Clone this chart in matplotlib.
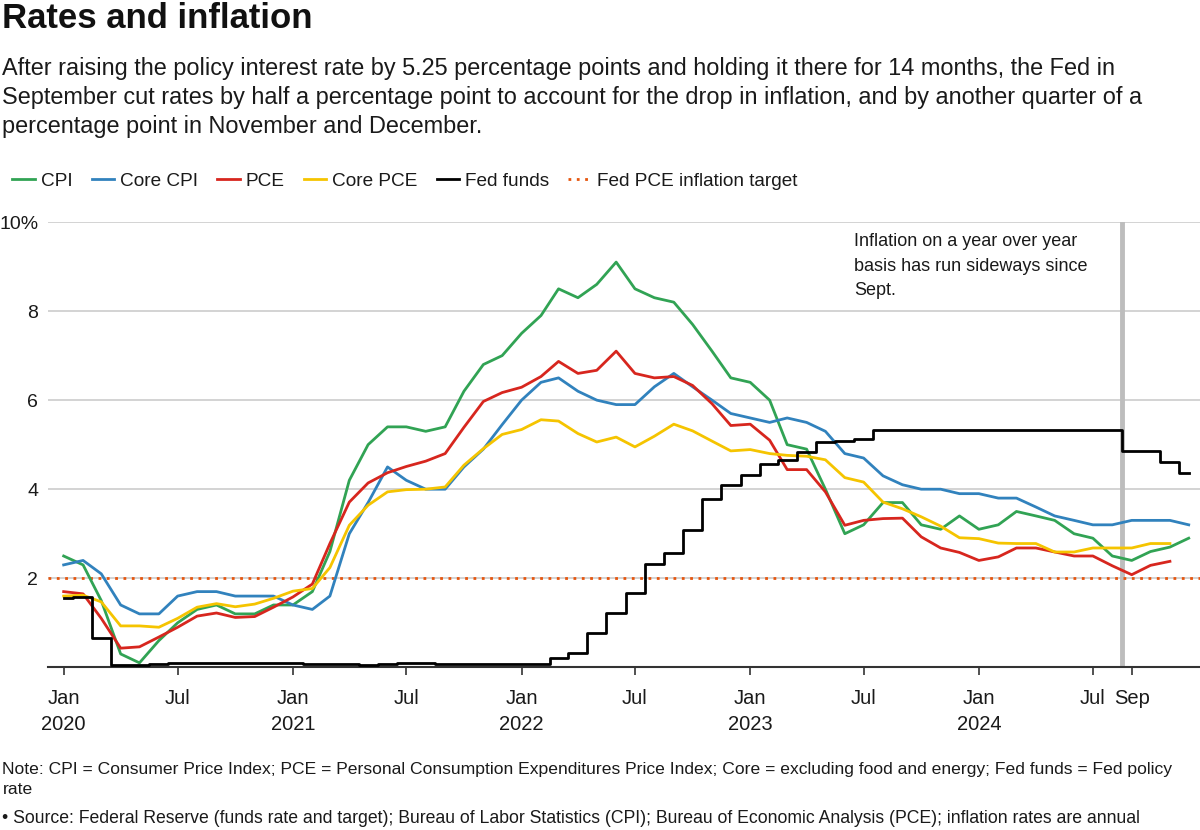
import numpy as np
import pandas as pd
import matplotlib
matplotlib.use("Agg")
import matplotlib.pyplot as plt
import matplotlib.dates as mdates

plt.rcParams['font.family'] = ['Liberation Sans', 'DejaVu Sans']

# monthly data, Jan 2020 .. Dec 2024
dates = pd.date_range('2020-01-01', '2024-12-01', freq='MS')

cpi = [2.5, 2.3, 1.5, 0.3, 0.1, 0.6, 1.0, 1.3, 1.4, 1.2, 1.2, 1.4,
       1.4, 1.7, 2.6, 4.2, 5.0, 5.4, 5.4, 5.3, 5.4, 6.2, 6.8, 7.0,
       7.5, 7.9, 8.5, 8.3, 8.6, 9.1, 8.5, 8.3, 8.2, 7.7, 7.1, 6.5,
       6.4, 6.0, 5.0, 4.9, 4.0, 3.0, 3.2, 3.7, 3.7, 3.2, 3.1, 3.4,
       3.1, 3.2, 3.5, 3.4, 3.3, 3.0, 2.9, 2.5, 2.4, 2.6, 2.7, 2.9]

core_cpi = [2.3, 2.4, 2.1, 1.4, 1.2, 1.2, 1.6, 1.7, 1.7, 1.6, 1.6, 1.6,
            1.4, 1.3, 1.6, 3.0, 3.7, 4.5, 4.2, 4.0, 4.0, 4.5, 4.9, 5.45,
            6.0, 6.4, 6.5, 6.2, 6.0, 5.9, 5.9, 6.3, 6.6, 6.3, 6.0, 5.7,
            5.6, 5.5, 5.6, 5.5, 5.3, 4.8, 4.7, 4.3, 4.1, 4.0, 4.0, 3.9,
            3.9, 3.8, 3.8, 3.6, 3.4, 3.3, 3.2, 3.2, 3.3, 3.3, 3.3, 3.2]

pce = [1.7, 1.65, 1.1, 0.43, 0.46, 0.68, 0.9, 1.15, 1.22, 1.12, 1.14, 1.35,
       1.58, 1.87, 2.78, 3.71, 4.14, 4.37, 4.51, 4.63, 4.8, 5.39, 5.97, 6.17,
       6.29, 6.53, 6.87, 6.6, 6.67, 7.1, 6.6, 6.5, 6.53, 6.33, 5.92, 5.43,
       5.46, 5.1, 4.44, 4.44, 3.94, 3.19, 3.3, 3.34, 3.35, 2.93, 2.68, 2.58,
       2.4, 2.48, 2.68, 2.68, 2.59, 2.5, 2.5, 2.28, 2.08, 2.29, 2.38]

core_pce = [1.6, 1.62, 1.47, 0.93, 0.93, 0.9, 1.1, 1.35, 1.43, 1.36, 1.42, 1.55,
            1.71, 1.77, 2.24, 3.19, 3.64, 3.94, 3.99, 4.0, 4.05, 4.54, 4.91, 5.23,
            5.34, 5.56, 5.53, 5.25, 5.06, 5.17, 4.95, 5.19, 5.46, 5.31, 5.08, 4.86,
            4.89, 4.8, 4.76, 4.74, 4.66, 4.26, 4.16, 3.71, 3.56, 3.38, 3.17, 2.91,
            2.89, 2.79, 2.78, 2.78, 2.59, 2.59, 2.68, 2.68, 2.68, 2.78, 2.78]

fed_funds = [1.55, 1.58, 0.65, 0.05, 0.05, 0.08, 0.09, 0.10, 0.09, 0.09, 0.09, 0.09,
             0.09, 0.08, 0.07, 0.07, 0.06, 0.08, 0.10, 0.09, 0.08, 0.08, 0.08, 0.08,
             0.08, 0.08, 0.20, 0.33, 0.77, 1.21, 1.68, 2.33, 2.56, 3.08, 3.78, 4.10,
             4.33, 4.57, 4.65, 4.83, 5.06, 5.08, 5.12, 5.33, 5.33, 5.33, 5.33, 5.33,
             5.33, 5.33, 5.33, 5.33, 5.33, 5.33, 5.33, 5.33, 4.85, 4.85, 4.61, 4.36]

target = 2.0

tick_dates = ['2020-01', '2020-07', '2021-01', '2021-07', '2022-01', '2022-07',
              '2023-01', '2023-07', '2024-01', '2024-07', '2024-09']
tick_labels = ['Jan\n2020', 'Jul', 'Jan\n2021', 'Jul', 'Jan\n2022', 'Jul',
               'Jan\n2023', 'Jul', 'Jan\n2024', 'Jul', 'Sep']

x = mdates.date2num(dates)

GREEN = '#31a354'
BLUE = '#3182bd'
RED = '#d7261e'
YELLOW = '#f5c400'
ORANGE = '#e6550d'
TXT = '#1a1a1a'

fig = plt.figure(figsize=(12, 8.3), dpi=100)
ax = fig.add_axes([0.04, 0.196, 0.96, 0.5365])

lw = 2.0
ax.plot(x[:len(cpi)], cpi, color=GREEN, lw=lw, label='CPI', zorder=3)
ax.plot(x[:len(core_cpi)], core_cpi, color=BLUE, lw=lw, label='Core CPI', zorder=3)
ax.plot(x[:len(pce)], pce, color=RED, lw=lw, label='PCE', zorder=3)
ax.plot(x[:len(core_pce)], core_pce, color=YELLOW, lw=lw, label='Core PCE', zorder=3)
ax.step(x[:len(fed_funds)], fed_funds, where='mid', color='black', lw=lw,
        label='Fed funds', zorder=4)
ax.axhline(target, color=ORANGE, lw=2.0, ls=(0, (1, 2)),
           label='Fed PCE inflation target', zorder=2)

# September marker
sep_line = (x[55] + x[56]) / 2
ax.axvline(sep_line, color='#bdbdbd', lw=3.5, zorder=1.5)

ax.text(0.6997, 0.976, 'Inflation on a year over year\nbasis has run sideways since\nSept.',
        transform=ax.transAxes, ha='left', va='top', fontsize=13,
        linespacing=1.6, color=TXT)

ax.set_ylim(0, 10)
ax.set_xlim(mdates.date2num(pd.Timestamp('2019-12-07')),
            mdates.date2num(pd.Timestamp('2024-12-19')))
ax.set_yticks([2, 4, 6, 8, 10])
ax.set_yticklabels(['2', '4', '6', '8', '10%'])
ax.yaxis.grid(True, color='#cccccc', lw=1.2)
ax.set_axisbelow(True)
ax.tick_params(axis='y', length=0, pad=7, labelsize=14, labelcolor=TXT)

ax.set_xticks(mdates.date2num(pd.to_datetime(tick_dates)))
ax.set_xticklabels(tick_labels, linespacing=1.45)
ax.tick_params(axis='x', length=6, width=1.2, color='#333333', pad=9.5,
               labelsize=14.5, labelcolor=TXT, direction='out')

for s in ['top', 'right', 'left']:
    ax.spines[s].set_visible(False)
ax.spines['bottom'].set_color('#333333')
ax.spines['bottom'].set_linewidth(1.5)

fig.legend(loc='center left', bbox_to_anchor=(-0.004, 0.782), ncol=6,
           frameon=False, fontsize=13.7, handlelength=1.2, handletextpad=0.3,
           columnspacing=1.0, labelcolor=TXT)

fig.text(0.002, 1 - 2 / 830, 'Rates and inflation', fontsize=25, fontweight='bold',
         va='top', ha='left', color='#111111')
fig.text(0.002, 1 - 57 / 830,
         'After raising the policy interest rate by 5.25 percentage points and holding it there for 14 months, the Fed in\n'
         'September cut rates by half a percentage point to account for the drop in inflation, and by another quarter of a\n'
         'percentage point in November and December.',
         fontsize=16.9, va='top', ha='left', linespacing=1.32, color=TXT)

fig.text(0.002, 1 - 762 / 830,
         'Note: CPI = Consumer Price Index; PCE = Personal Consumption Expenditures Price Index; '
         'Core = excluding food and energy; Fed funds = Fed policy\nrate',
         fontsize=12.6, va='top', ha='left', linespacing=1.42, color=TXT)
fig.text(0.002, 1 - 810 / 830,
         '\u2022 Source: Federal Reserve (funds rate and target); Bureau of Labor Statistics (CPI); '
         'Bureau of Economic Analysis (PCE); inflation rates are annual',
         fontsize=12.7, va='top', ha='left', color=TXT)

fig.savefig('out.png', dpi=100)
